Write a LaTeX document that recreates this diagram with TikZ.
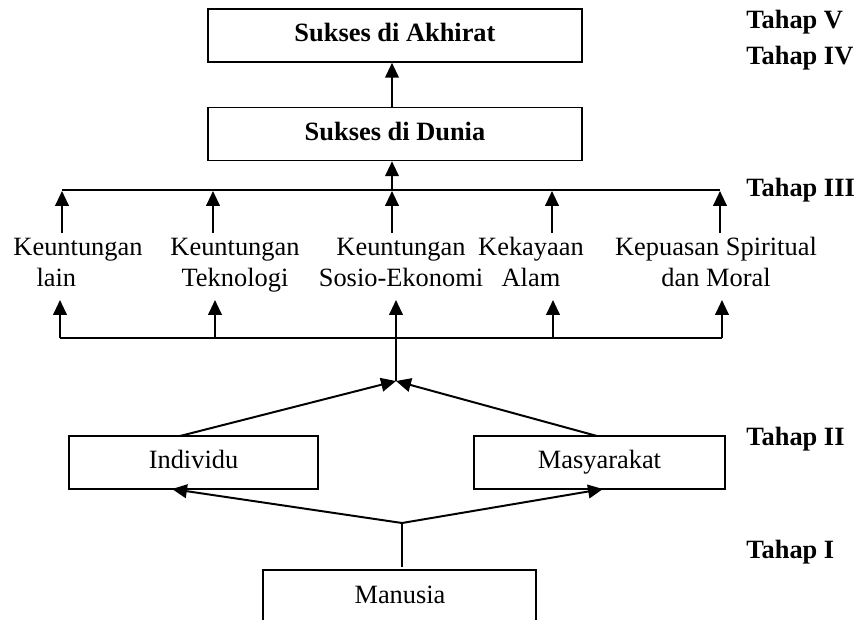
\documentclass[tikz,border=0pt]{standalone}
\usepackage{fontspec}
\setmainfont{Liberation Serif}
\usetikzlibrary{arrows.meta}
\begin{document}
\def\u{0.4545pt}
\begin{tikzpicture}[x=\u, y=-\u,
  font=\fontsize{12}{13.8}\selectfont,
  box/.style={draw, line width=0.7pt, inner sep=0pt, minimum height=53*\u, text height=8.2pt, text depth=2.6pt},
  lbl/.style={inner sep=0pt, align=center},
  tahap/.style={inner sep=0pt, anchor=west, text height=8.2pt, text depth=2.6pt, font=\fontsize{12}{13.8}\selectfont\bfseries},
  ln/.style={line width=0.7pt},
  arr/.style={line width=0.9pt, -{Triangle[width=6.2pt,length=6.8pt]}}]
\useasboundingbox (0,0) rectangle (859,620);

% boxes
\node[box, minimum width=374*\u] (akhirat) at (395,35.5) {\textbf{Sukses di Akhirat}};
\node[box, minimum width=374*\u] (dunia) at (395,134) {\textbf{Sukses di Dunia}};
\node[box, minimum width=249*\u] (individu) at (193.5,462.5) {Individu};
\node[box, minimum width=251*\u] (masy) at (599.5,462.5) {Masyarakat};
\node[inner sep=0pt, text height=8.2pt, text depth=2.6pt] (manusia) at (400,597) {Manusia};
\draw[ln] (263,620) -- (263,570) -- (536,570) -- (536,620);

% labels row
\node[lbl, align=left] (k1) at (78,265) {\strut Keuntungan\\\strut\hspace*{10.5pt}lain};
\node[lbl] (k2) at (235,265) {\strut Keuntungan\\\strut Teknologi};
\node[lbl] (k3) at (401,265) {\strut Keuntungan\\\strut Sosio-Ekonomi};
\node[lbl] (k4) at (531,265) {\strut Kekayaan\\\strut Alam};
\node[lbl] (k5) at (716,265) {\strut Kepuasan Spiritual\\\strut dan Moral};

% stage labels
\node[tahap] (t5) at (746,22) {Tahap V};
\node[tahap] (t4) at (746,58) {Tahap IV};
\node[tahap] (t3) at (746,190) {Tahap III};
\node[tahap] (t2) at (746,439) {Tahap II};
\node[tahap] (t1) at (746,552) {Tahap I};

% coordinates
\coordinate (busL) at (62,190);
\coordinate (busR) at (720,190);
\coordinate (busC) at (392,190);
\foreach \i/\x in {1/62,2/213,3/392,4/552,5/720}{
  \coordinate (ua\i) at (\x,233);
  \coordinate (ub\i) at (\x,191);
}
\coordinate (lowL) at (60,338);
\coordinate (lowR) at (722,338);
\foreach \i/\x in {1/60,2/215,4/553,5/722}{
  \coordinate (la\i) at (\x,338);
  \coordinate (lb\i) at (\x,300);
}
\coordinate (lb3) at (396,300);
\coordinate (j1) at (396,381);
\coordinate (itop) at (180,436);
\coordinate (mtop) at (597,436);
\coordinate (j2) at (402,523);
\coordinate (ibot) at (172,489);
\coordinate (mbot) at (603,489);
\coordinate (mantop) at (402,567);

% connectors
\draw[arr] (dunia.north -| busC) -- (akhirat.south -| busC);
\draw[arr] (busC) -- (dunia.south -| busC);
\draw[ln] (busL) -- (busR);
\foreach \i in {1,...,5}{\draw[arr] (ua\i) -- (ub\i);}
\draw[ln] (lowL) -- (lowR);
\foreach \i in {1,2,4,5}{\draw[arr] (la\i) -- (lb\i);}
\draw[arr] (j1) -- (lb3);
\draw[arr] (itop) -- (j1);
\draw[arr] (mtop) -- (j1);
\draw[ln] (mantop) -- (j2);
\draw[arr] (j2) -- (ibot);
\draw[arr] (j2) -- (mbot);
\end{tikzpicture}
\end{document}
